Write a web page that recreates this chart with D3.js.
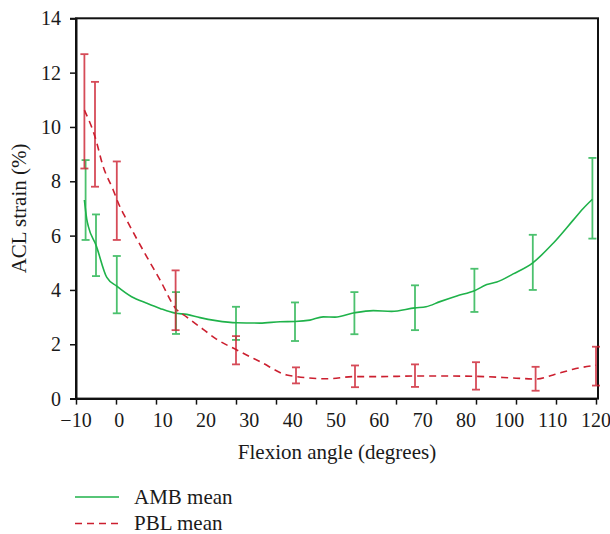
<!DOCTYPE html>
<html><head><meta charset="utf-8">
<script src="https://cdn.jsdelivr.net/npm/d3@7"></script>
<style>body{margin:0;background:#fff}svg{display:block}text{font-family:"Liberation Serif","DejaVu Serif",serif;fill:#1a1a1a}</style>
</head><body>
<svg id="c" width="610" height="534"></svg>
<script>
// ---- data ----
const xTickValues = [-10,0,10,20,30,40,50,60,70,80,90,100,110,120];
const xTickLabels = ["\u221210","0","10","20","30","40","50","60","70","80","100","110","120"];
const yTickValues = [0,2,4,6,8,10,12,14];

const ambCurve = [[-7.9,7.31],[-7.3,6.6],[-6.9,6.33],[-5,5.65],[-2.3,4.46],[0.2,4.14],[3.9,3.75],[7.7,3.51],[11,3.32],[14.9,3.14],[17.7,3.10],[21,2.98],[25,2.87],[30.2,2.79],[36,2.78],[41,2.83],[44.75,2.84],[48.5,2.89],[51.8,3.01],[54.75,3.0],[59.6,3.16],[64.3,3.24],[68.9,3.21],[74.75,3.34],[77.5,3.38],[81,3.57],[85.2,3.78],[89.6,3.97],[92.7,4.2],[95.2,4.29],[99.3,4.59],[104.2,5.0],[109.3,5.72],[114.3,6.57],[116.8,7.0],[119.1,7.34]];
const pblCurve = [[-7.9,10.62],[-5.25,9.64],[-3.2,8.54],[-0.7,7.68],[0.6,7.19],[2.7,6.57],[7.7,5.22],[11,4.37],[14.9,3.32],[17.7,3.0],[21.8,2.55],[25,2.2],[30.2,1.79],[36,1.36],[42.7,0.87],[45.2,0.81],[52.7,0.73],[59.6,0.81],[66,0.81],[74.75,0.83],[83.5,0.83],[89.75,0.82],[99.3,0.76],[104.9,0.72],[109.3,0.87],[114.3,1.08],[120,1.23]];

const ambErrAngle = [-7.6,-5,0.2,15,30,44.75,59.6,74.75,89.6,104.2,119.1];
const ambErrLow   = [5.84,4.51,3.14,2.38,2.16,2.12,2.37,2.52,3.19,4.0,5.89];
const ambErrHigh  = [8.78,6.78,5.25,3.92,3.38,3.54,3.92,4.17,4.78,6.03,8.86];
const pblErrAngle = [-7.9,-5.25,0.2,14.9,30,45,59.75,74.75,90,104.9,120];
const pblErrLow   = [8.47,7.80,5.84,2.52,1.26,0.56,0.42,0.43,0.33,0.29,0.48];
const pblErrHigh  = [12.68,11.66,8.73,4.72,2.30,1.15,1.22,1.26,1.34,1.17,1.91];

const legendLabels = ["AMB mean","PBL mean"];
// ---- chart ----
const green = "#1fb24a", red = "#cc1f2f";
const FS = "20px", FT = "21px";
const svg = d3.select("#c");
const x = d3.scaleLinear().domain([-10,120]).range([76,596]);
const y = d3.scaleLinear().domain([0,14]).range([398.6,18.3]);
const xRight = x(120.5);

// frame
svg.append("rect").attr("x",x(-10)).attr("y",y(14)).attr("width",xRight-x(-10)).attr("height",y(0)-y(14))
  .attr("fill","none").attr("stroke","#111").attr("stroke-width",2);

// y axis
const yAxis = svg.append("g").attr("transform",`translate(${x(-10)},0)`)
  .call(d3.axisLeft(y).tickValues(yTickValues).tickFormat(d3.format("d")).tickSize(6).tickPadding(9));
yAxis.select(".domain").attr("stroke","#111").attr("stroke-width",2);
yAxis.selectAll(".tick line").attr("stroke","#111").attr("stroke-width",1.5);
yAxis.selectAll("text").style("font-size",FS).style("font-family","Liberation Serif").attr("fill","#1a1a1a");

// x axis ticks
const xAxis = svg.append("g").attr("transform",`translate(0,${y(0)})`)
  .call(d3.axisBottom(x).tickValues(xTickValues).tickFormat("").tickSize(6).tickSizeOuter(0));
xAxis.select(".domain").attr("stroke","#111").attr("stroke-width",2);
xAxis.selectAll(".tick line").attr("stroke","#111").attr("stroke-width",1.5);
// x labels (evenly spread over the axis)
const xl = d3.scalePoint().domain(xTickLabels).range([x(-10),x(120)]);
svg.append("g").selectAll("text").data(xTickLabels).join("text")
  .attr("x",d=>xl(d)).attr("y",y(0)+28.5).attr("text-anchor","middle").style("font-size",FS).text(d=>d);

// axis titles
svg.append("text").attr("x",(x(-10)+xRight)/2).attr("y",459).attr("text-anchor","middle")
  .style("font-size",FT).text("Flexion angle (degrees)");
svg.append("text").attr("transform",`translate(26,${(y(0)+y(14))/2}) rotate(-90)`).attr("text-anchor","middle")
  .style("font-size",FT).text("ACL strain (%)");

// lines
const line = d3.line().x(d=>x(d[0])).y(d=>y(d[1])).curve(d3.curveMonotoneX);
svg.append("path").datum(ambCurve).attr("d",line).attr("fill","none").attr("stroke",green).attr("stroke-width",1.6);
svg.append("path").datum(pblCurve).attr("d",line).attr("fill","none").attr("stroke",red).attr("stroke-width",1.6).attr("stroke-dasharray","7,5");

// error bars
function errBars(ang, lo, hi, col){
  const g = svg.append("g").attr("stroke",col).attr("stroke-width",1.8).attr("opacity",0.8);
  const idx = d3.range(ang.length);
  g.selectAll(".v").data(idx).join("line").attr("x1",i=>x(ang[i])).attr("x2",i=>x(ang[i]))
    .attr("y1",i=>y(lo[i])).attr("y2",i=>y(hi[i]));
  g.selectAll(".t").data(idx).join("line").attr("x1",i=>x(ang[i])-4).attr("x2",i=>x(ang[i])+4)
    .attr("y1",i=>y(hi[i])).attr("y2",i=>y(hi[i]));
  g.selectAll(".b").data(idx).join("line").attr("x1",i=>x(ang[i])-4).attr("x2",i=>x(ang[i])+4)
    .attr("y1",i=>y(lo[i])).attr("y2",i=>y(lo[i]));
}
errBars(ambErrAngle, ambErrLow, ambErrHigh, green);
errBars(pblErrAngle, pblErrLow, pblErrHigh, red);

// legend
const lg = svg.append("g");
[[green,null],[red,"7,5"]].forEach((s,i)=>{
  const yy = 497 + i*26.5;
  lg.append("line").attr("x1",75).attr("x2",119).attr("y1",yy).attr("y2",yy)
    .attr("stroke",s[0]).attr("stroke-width",1.6).attr("stroke-dasharray",s[1]);
  lg.append("text").attr("x",134).attr("y",yy+6.5).style("font-size",FT).text(legendLabels[i]);
});
</script>
</body></html>
